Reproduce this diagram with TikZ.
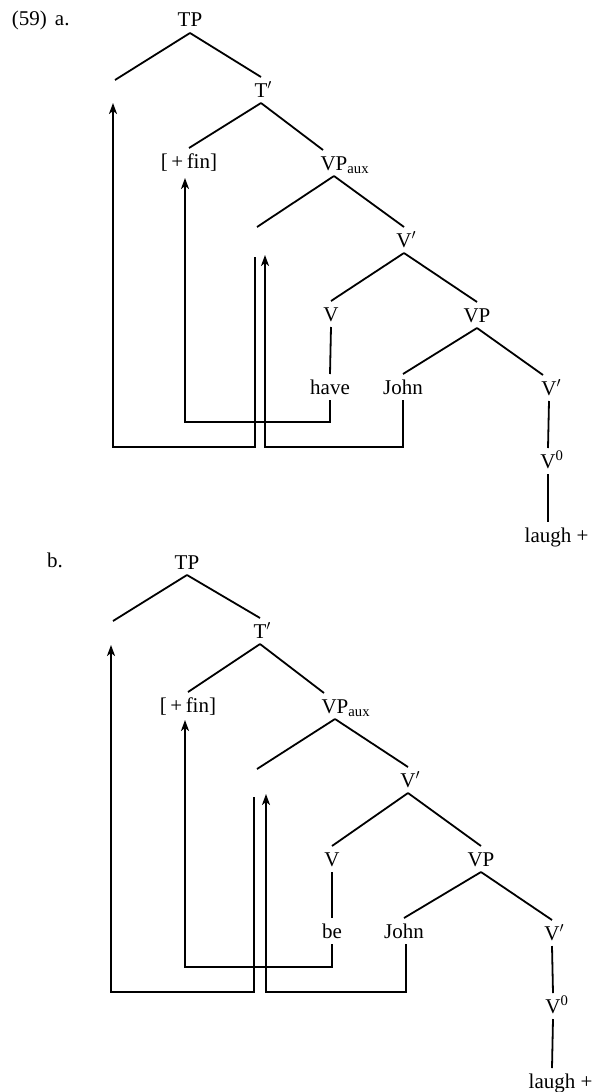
\documentclass[tikz,border=0pt]{standalone}
\usepackage{fontspec}
\setmainfont{Liberation Serif}
\usetikzlibrary{arrows.meta}
\begin{document}
\begin{tikzpicture}[x=1pt,y=-1pt,
  lab/.style={inner sep=0pt, outer xsep=0pt, outer ysep=6pt, text height=14pt, text depth=0pt, anchor=base, font=\fontsize{21}{25}\selectfont},
  br/.style={line width=1.8pt},
  arr/.style={line width=1.8pt, -{Stealth[length=11pt,width=8pt,inset=3pt]}}]
\useasboundingbox (0,0) rectangle (592,1092);
% ---------------- tree (a)
\node[lab, anchor=base west] (exa) at (12,25) {(59)\hspace{8pt}a.};
\node[lab] (tpa) at (190,27) {TP};
\coordinate (spa) at (115,80);
\node[lab] (tba) at (261,97) {T\rlap{$'$}};
\node[lab] (fina) at (189,168) {[\thinspace+\thinspace fin]};
\node[lab] (vpauxa) at (334,170) {VP\rlap{\textsubscript{aux}}};
\coordinate (svpa) at (257,227);
\node[lab] (vba) at (404,247) {V\rlap{$'$}};
\node[lab] (va) at (331,321) {V};
\node[lab] (havea) at (330,394) {have};
\node[lab] (vpa) at (477,322) {VP};
\node[lab] (johna) at (403,394) {John};
\node[lab] (vbba) at (549,395) {V\rlap{$'$}};
\node[lab] (vza) at (548,468) {V\rlap{\textsuperscript{0}}};
\node[lab] (laugha) at (548,542) {laugh\rlap{\ +}};
\draw[br] (tpa.south) -- (spa);
\draw[br] (tpa.south) -- (tba.north);
\draw[br] (tba.south) -- (fina.north);
\draw[br] (tba.south) -- ([xshift=-11pt]vpauxa.north);
\draw[br] (vpauxa.south) -- (svpa);
\draw[br] (vpauxa.south) -- (vba.north);
\draw[br] (vba.south) -- (va.north);
\draw[br] (vba.south) -- (vpa.north);
\draw[br] (va.south) -- (havea.north);
\draw[br] (vpa.south) -- (johna.north);
\draw[br] (vpa.south) -- ([xshift=-6pt]vbba.north);
\draw[br] (vbba.south) -- (vza.north);
\draw[br] (vza.south) -- (laugha.north);
\coordinate (ya1) at (0,422);
\coordinate (ya2) at (0,447);
\coordinate (fintipa) at (185,178);
\coordinate (svptipa) at (265,255);
\coordinate (svpfoota) at (255,257);
\coordinate (sptipa) at (113,103);
\draw[arr] (havea.south) -- (havea.south |- ya1) -| (fintipa);
\draw[arr] (johna.south) -- (johna.south |- ya2) -| (svptipa);
\draw[arr] (svpfoota) -- (svpfoota |- ya2) -| (sptipa);
% ---------------- tree (b)
\node[lab, anchor=base west] (exb) at (47,567) {b.};
\node[lab] (tpb) at (187,569) {TP};
\coordinate (spb) at (113,621);
\node[lab] (tbb) at (260,638) {T\rlap{$'$}};
\node[lab] (finb) at (188,712) {[\thinspace+\thinspace fin]};
\node[lab] (vpauxb) at (335,713) {VP\rlap{\textsubscript{aux}}};
\coordinate (svpb) at (257,769);
\node[lab] (vbb) at (408,787) {V\rlap{$'$}};
\node[lab] (vb) at (332,866) {V};
\node[lab] (beb) at (332,938) {be};
\node[lab] (vpb) at (481,866) {VP};
\node[lab] (johnb) at (404,938) {John};
\node[lab] (vbbb) at (552,940) {V\rlap{$'$}};
\node[lab] (vzb) at (553,1013) {V\rlap{\textsuperscript{0}}};
\node[lab] (laughb) at (552,1088) {laugh\rlap{\ +}};
\draw[br] (tpb.south) -- (spb);
\draw[br] (tpb.south) -- (tbb.north);
\draw[br] (tbb.south) -- (finb.north);
\draw[br] (tbb.south) -- ([xshift=-11pt]vpauxb.north);
\draw[br] (vpauxb.south) -- (svpb);
\draw[br] (vpauxb.south) -- (vbb.north);
\draw[br] (vbb.south) -- (vb.north);
\draw[br] (vbb.south) -- (vpb.north);
\draw[br] (vb.south) -- (beb.north);
\draw[br] (vpb.south) -- (johnb.north);
\draw[br] (vpb.south) -- (vbbb.north);
\draw[br] (vbbb.south) -- (vzb.north);
\draw[br] (vzb.south) -- (laughb.north);
\coordinate (yb1) at (0,967);
\coordinate (yb2) at (0,992);
\coordinate (fintipb) at (185,720);
\coordinate (svptipb) at (266,794);
\coordinate (svpfootb) at (254,797);
\coordinate (sptipb) at (111,645);
\draw[arr] (beb.south) -- (beb.south |- yb1) -| (fintipb);
\draw[arr] ([xshift=2pt]johnb.south) -- ([xshift=2pt]johnb.south |- yb2) -| (svptipb);
\draw[arr] (svpfootb) -- (svpfootb |- yb2) -| (sptipb);
\end{tikzpicture}
\end{document}
